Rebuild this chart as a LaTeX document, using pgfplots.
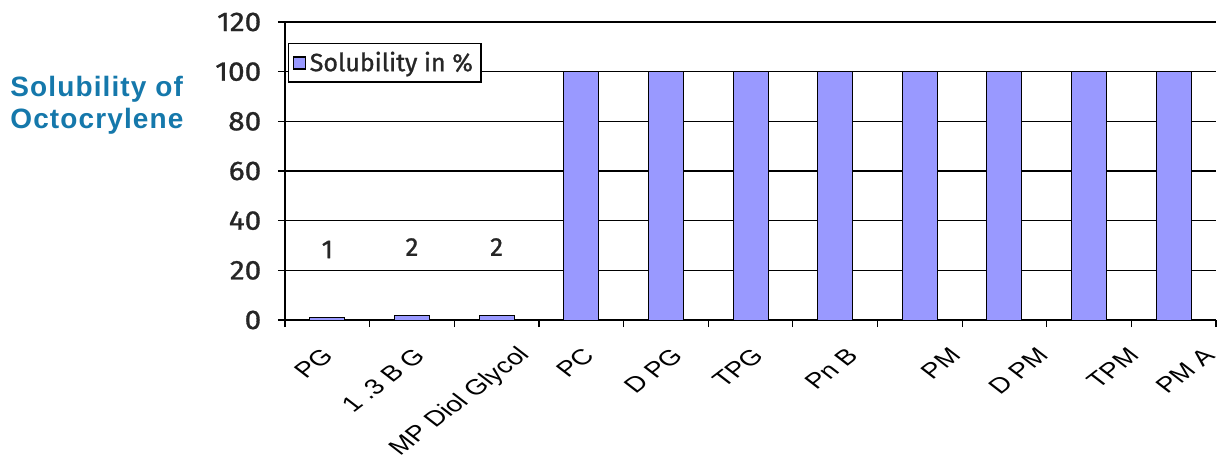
\documentclass[border=0pt]{standalone}
\usepackage{pgfplots}
\pgfplotsset{compat=1.18}
\usepackage{fontspec}
\setmainfont{Liberation Sans}
\newfontfamily\dinfont{Fira Sans}[FakeBold=1]
\definecolor{barfill}{HTML}{9999FF}
\definecolor{titleblue}{HTML}{1578AB}
\definecolor{ticktext}{HTML}{262626}

\begin{document}
\begin{tikzpicture}
% picture frame = reference proportions (1225x455 px at 0.5pt/px)
\useasboundingbox (-142.5pt,-67.5pt) rectangle (470pt,160pt);
\begin{axis}[
  at={(0pt,0pt)}, anchor=south west,
  scale only axis, width=465.5pt, height=149pt,
  xmin=-0.5, xmax=10.5, ymin=0, ymax=120,
  axis x line*=bottom, axis y line*=left,
  axis line style={black, line width=0.6pt},
  ymajorgrids, major grid style={black, line width=0.6pt},
  tick align=outside, major tick length=3.5pt,
  tick style={black, line width=0.6pt},
  ytick={0,20,...,120},
  yticklabel style={font=\dinfont\fontsize{13.5}{13.5}\selectfont, text=ticktext,
    xshift=-4.5pt, xscale=1.1},
  /pgf/number format/assume math mode=true,
  % ticks between categories, names under the categories
  xtick={-0.5,0.5,...,10.5}, xticklabels={},
  extra x ticks={0,1,2,3,4,5,6,7,8,9,10},
  extra x tick labels={PG, 1 .3 B G, MP Diol Glycol, PC, D PG, TPG, Pn B, PM, D PM, TPM, PM A},
  % the original's labels are stretched sideways and sit unevenly right of their categories
  extra x tick style={major tick length=0pt,
    xticklabel style={font=\fontsize{10.8}{10.8}\selectfont, anchor=east,
      xshift={{-7,-3.5,7,-3.5,-1.5,-3.5,1.5,10.5,12,15,10.5}[\ticknum]+10.5}, yshift=-13.5pt,
      xscale=1.3, rotate=45}},
  legend style={at={(0.003,0.93)}, anchor=north west, draw=black, line width=0.8pt,
    font=\dinfont\fontsize{12.5}{14}\selectfont, text=ticktext, inner sep=2pt},
  legend cell align=left,
]
\addplot[ybar, bar width=17.5pt, fill=barfill, draw=black, line width=0.5pt,
  legend image code/.code={\draw[fill=barfill, draw=black, line width=0.6pt]
    (0pt,-3pt) rectangle (6pt,3pt);},
  nodes near coords, point meta=explicit symbolic,
  nodes near coords style={anchor=center, yshift=34pt, text=ticktext,
    font=\dinfont\fontsize{13}{13}\selectfont}]
  coordinates {
  (0,1) [1]  (1,2) [2]  (2,2) [2]
  (3,100) [] (4,100) [] (5,100) [] (6,100) []
  (7,100) [] (8,100) [] (9,100) [] (10,100) []
};
\legend{Solubility in \%}
\end{axis}
\node[anchor=west, align=left, inner sep=0pt, text=titleblue,
  font=\bfseries\fontsize{14}{16}\selectfont\addfontfeature{LetterSpace=4}]
  at (-137.5pt,107.5pt) {Solubility of\\Octocrylene};
\end{tikzpicture}
\end{document}
